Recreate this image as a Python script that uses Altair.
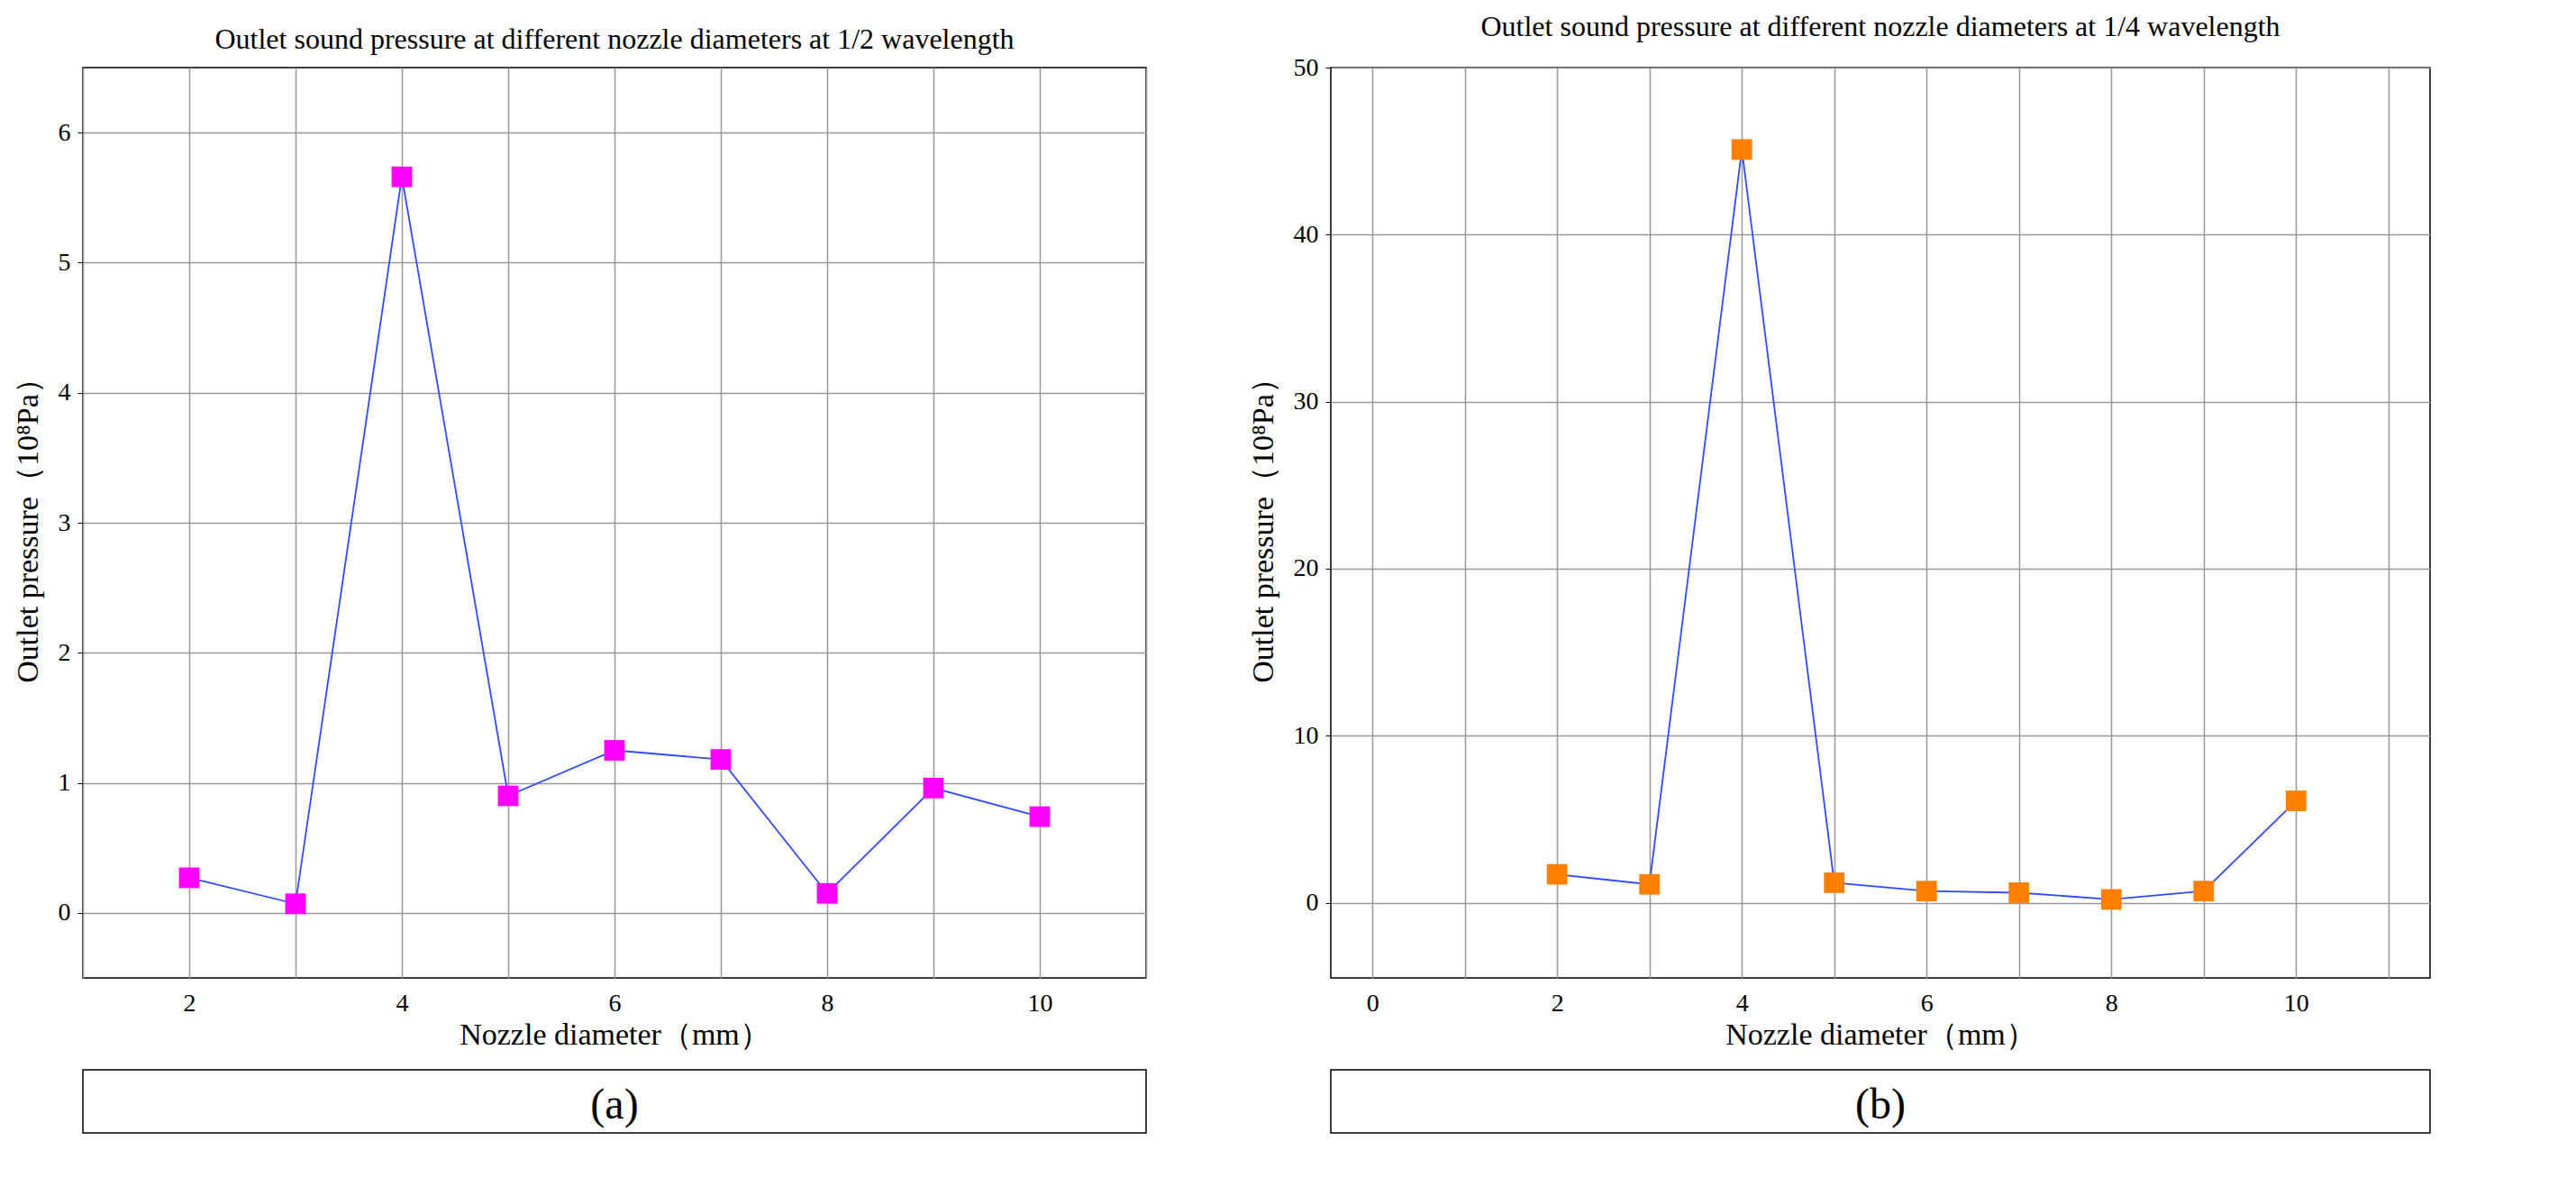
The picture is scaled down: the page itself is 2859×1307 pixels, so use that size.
import altair as alt
import pandas as pd

diam = [2, 3, 4, 5, 6, 7, 8, 9, 10]
p_half = [0.27, 0.07, 5.66, 0.90, 1.25, 1.18, 0.15, 0.96, 0.74]
p_quarter = [1.7, 1.1, 45.1, 1.2, 0.7, 0.6, 0.2, 0.7, 6.1]

FONT = "Liberation Serif"


def panel(values, color, xdom, ydom, xticks, yticks, xgrid, title, w, h):
    df = pd.DataFrame({"d": diam, "p": values})
    x = alt.X("d:Q", scale=alt.Scale(domain=xdom, nice=False, zero=False),
              title="Nozzle diameter（mm）",
              axis=alt.Axis(values=xgrid, labelExpr=f"indexof({xticks}, datum.value) >= 0 ? datum.label : ''",
                            tickSize=0, labelPadding=14))
    y = alt.Y("p:Q", scale=alt.Scale(domain=ydom, nice=False, zero=False),
              title="Outlet pressure（10⁸Pa）",
              axis=alt.Axis(values=yticks, tickSize=6, labelPadding=8, titlePadding=16))
    base = alt.Chart(df).encode(x=x, y=y)
    line = base.mark_line(color="#2f4bff", strokeWidth=1.8)
    pts = base.mark_square(color=color, size=520, opacity=1)
    return (line + pts).properties(width=w, height=h, title=title)


def caption(t, w):
    return alt.Chart(pd.DataFrame({"t": [t]})).mark_text(
        font=FONT, fontSize=48, color="black").encode(
        text="t:N", x=alt.value(w / 2), y=alt.value(40)).properties(width=w, height=70)


a = panel(p_half, "#ff00ff", [1, 11], [-0.5, 6.5], "[2,4,6,8,10]",
          [0, 1, 2, 3, 4, 5, 6], list(range(1, 12)),
          "Outlet sound pressure at different nozzle diameters at 1/2 wavelength", 1180, 1010)
b = panel(p_quarter, "#ff8000", [-0.45, 11.45], [-4.5, 50], "[0,2,4,6,8,10]",
          [0, 10, 20, 30, 40, 50], list(range(0, 12)),
          "Outlet sound pressure at different nozzle diameters at 1/4 wavelength", 1220, 1010)

chart = alt.hconcat(
    alt.vconcat(a, caption("(a)", 1180), spacing=20),
    alt.vconcat(b, caption("(b)", 1220), spacing=20),
    spacing=110,
).configure_view(stroke="black", strokeWidth=1.5).configure_axis(
    labelFont=FONT, titleFont=FONT, labelFontSize=28, titleFontSize=34,
    labelColor="black", titleColor="black", titleFontWeight="normal",
    gridColor="#999999", gridWidth=1.5, domain=False, tickColor="black",
).configure_title(font=FONT, fontSize=32, fontWeight="normal", anchor="middle", offset=14)

chart.save("out.html", embed_options={"renderer": "svg", "actions": False})
